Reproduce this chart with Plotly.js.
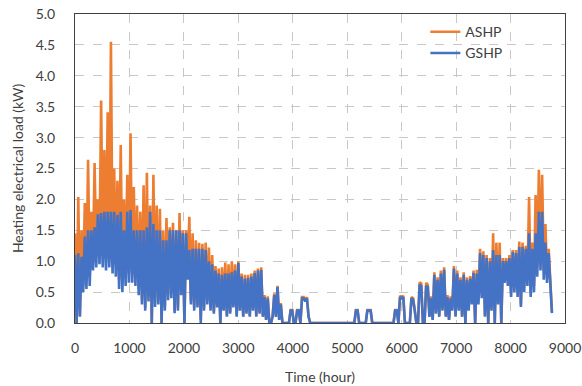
<!DOCTYPE html>
<html>
<head>
<meta charset="utf-8">
<script src="https://cdn.plot.ly/plotly-3.0.1.min.js"></script>
<style>html,body{margin:0;padding:0;background:#fff}#chart{width:582px;height:386px}</style>
</head>
<body>
<div id="chart"></div>
<script>
const STEP_HOURS = 30;

// GSHP heating electrical load (kW)
const gshp = [
1.1,0.0,1.13,0.1,1.07,0.5,1.4,0.55,1.5,0.6,
1.5,0.85,1.55,0.9,1.76,0.95,1.78,0.9,1.8,0.85,
1.8,0.9,1.8,0.8,1.8,0.75,1.75,0.55,1.8,0.5,
1.5,0.6,1.8,0.65,1.83,0.65,1.5,0.6,1.5,0.45,
1.5,0.3,1.5,0.2,1.55,0.35,1.8,0.0,1.6,0.26,
1.5,0.3,1.5,0.0,1.34,0.2,1.34,0.37,1.5,0.4,
1.5,0.16,1.5,0.2,1.5,0.45,1.45,0.0,1.45,0.7,
1.18,0.3,1.2,0.2,1.2,0.25,1.2,0.0,1.2,0.2,
1.18,0.3,1.0,0.2,0.95,0.15,0.85,0.25,0.8,0.0,
0.78,0.2,0.8,0.1,0.8,0.15,0.82,0.25,0.85,0.1,
0.97,0.2,0.75,0.1,0.72,0.15,0.73,0.1,0.75,0.2,
0.81,0.1,0.85,0.15,0.86,0.1,0.42,0.05,0.4,0.0,
0.0,0.1,0.45,0.1,0.58,0.05,0.3,0.0,0.0,0.0,
0.0,0.0,0.2,0.2,0.0,0.0,0.2,0.2,0.0,0.4,
0.4,0.35,0.4,0.1,0,0,0,0,0,0,
0,0,0,0,0,0,0,0,0,0,
0,0,0,0,0,0,0,0,0,0,
0,0,0.2,0.2,0,0,0,0,0,0.2,
0.2,0.2,0,0,0,0,0,0,0,0,
0,0,0,0,0,0,0.2,0.2,0.0,0.42,
0.4,0.42,0,0,0,0,0.4,0.38,0.2,0.0,
0.0,0.62,0.6,0.0,0.0,0.6,0.58,0.1,0.4,0.05,
0.78,0.15,0.7,0.1,0.8,0.2,0.86,0.1,0.42,0.05,
0.4,0.2,0.88,0.1,0.8,0.2,0.7,0.1,0.78,0.0,
0.7,0.2,0.72,0.3,0.81,0.0,0.8,0.3,1.13,0.4,
1.1,0.1,1.05,0.0,1.0,0.2,1.18,0.0,1.1,0.3,
1.1,0.0,1.0,0.65,1.0,0.6,1.05,0.42,1.15,0.5,
1.13,0.42,1.23,0.26,1.23,0.5,1.2,0.6,1.45,0.42,
1.2,0.5,1.45,0.75,1.8,0.85,1.8,0.7,1.3,0.65,
1.13,0.6,0.16
];

// ASHP heating electrical load (kW)
const ashp = [
1.45,0.0,2.04,0.12,1.5,0.6,1.94,0.7,2.64,0.75,
1.8,1.05,2.59,1.1,2.0,1.2,3.6,1.15,2.8,1.1,
3.41,1.15,4.55,1.0,2.5,0.95,2.3,0.7,2.88,0.65,
2.0,0.75,2.4,0.8,3.07,0.8,2.2,0.75,1.9,0.55,
1.8,0.38,2.23,0.25,2.43,0.42,1.9,0.0,2.4,0.32,
1.9,0.36,1.85,0.0,1.5,0.25,1.7,0.45,1.55,0.48,
1.62,0.2,1.5,0.25,1.78,0.52,1.5,0.0,1.5,0.8,
1.72,0.35,1.45,0.25,1.34,0.3,1.3,0.05,1.28,0.25,
1.3,0.35,1.22,0.25,1.1,0.18,0.92,0.3,0.88,0.0,
0.9,0.25,0.98,0.12,0.95,0.18,1.0,0.3,0.95,0.12,
1.0,0.25,0.8,0.12,0.78,0.18,0.78,0.12,0.8,0.25,
0.85,0.12,0.88,0.18,0.9,0.12,0.45,0.06,0.43,0.0,
0.0,0.12,0.48,0.12,0.6,0.06,0.32,0.0,0.0,0.0,
0.0,0.0,0.21,0.21,0.0,0.0,0.21,0.21,0.0,0.42,
0.42,0.37,0.42,0.11,0,0,0,0,0,0,
0,0,0,0,0,0,0,0,0,0,
0,0,0,0,0,0,0,0,0,0,
0,0,0.21,0.21,0,0,0,0,0,0.21,
0.21,0.21,0,0,0,0,0,0,0,0,
0,0,0,0,0,0,0.21,0.21,0.0,0.44,
0.42,0.44,0,0,0,0,0.42,0.4,0.21,0.0,
0.0,0.66,0.64,0.0,0.0,0.65,0.62,0.12,0.43,0.06,
0.82,0.18,0.74,0.12,0.85,0.24,0.9,0.12,0.45,0.06,
0.43,0.24,0.92,0.12,0.85,0.24,0.74,0.12,0.82,0.0,
0.74,0.24,0.76,0.35,0.85,0.0,0.86,0.35,1.2,0.45,
1.16,0.12,1.1,0.0,1.05,0.24,1.45,0.0,1.3,0.35,
1.3,0.0,1.05,0.75,1.05,0.7,1.1,0.5,1.18,0.58,
1.18,0.5,1.32,0.3,1.3,0.6,1.25,0.7,2.04,0.5,
1.3,0.6,2.07,0.9,2.48,1.0,2.4,0.85,1.6,0.78,
1.2,0.7,0.18
];

const seriesNames = ["ASHP", "GSHP"];
const xTickVals = [0,1000,2000,3000,4000,5000,6000,7000,8000,9000];
const yTickVals = [0,0.5,1,1.5,2,2.5,3,3.5,4,4.5,5];
const yTickText = ["0.0","0.5","1.0","1.5","2.0","2.5","3.0","3.5","4.0","4.5","5.0"];

const hoursA = ashp.map((_, i) => i * STEP_HOURS);
const hoursG = gshp.map((_, i) => i * STEP_HOURS);

const FONT = "Lato, 'Open Sans', sans-serif";
const traces = [
  {x: hoursA, y: ashp, name: seriesNames[0], type: "scatter", mode: "lines",
   line: {color: "#ED7D31", width: 2.6}},
  {x: hoursG, y: gshp, name: seriesNames[1], type: "scatter", mode: "lines",
   line: {color: "#4472C4", width: 2.6}}
];

const gridStyle = {showgrid: true, gridcolor: "#c8c8c8", griddash: "dash", gridwidth: 1};
const layout = {
  width: 582, height: 386,
  margin: {l: 75, r: 17, t: 14, b: 63},
  paper_bgcolor: "#fff", plot_bgcolor: "#fff",
  font: {family: FONT, size: 14, color: "#404040"},
  showlegend: true,
  legend: {x: 0.715, y: 0.993, xanchor: "left", yanchor: "top",
           bgcolor: "rgba(0,0,0,0)", font: {family: FONT, size: 14, color: "#404040"}},
  xaxis: Object.assign({
    range: [0, 9000], tickvals: xTickVals, ticktext: xTickVals.map(String),
    showline: true, mirror: true, linecolor: "#404040", linewidth: 1,
    zeroline: false, ticks: "", ticklabelstandoff: 12,
    title: {text: "Time (hour)", font: {family: FONT, size: 14, color: "#404040"}, standoff: 17}
  }, gridStyle),
  yaxis: Object.assign({
    range: [0, 5], tickvals: yTickVals, ticktext: yTickText,
    showline: true, mirror: true, linecolor: "#404040", linewidth: 1,
    zeroline: false, ticks: "", ticklabelstandoff: 16,
    title: {text: "Heating electrical load (kW)", font: {family: FONT, size: 14, color: "#404040"}, standoff: 8}
  }, gridStyle)
};

Plotly.newPlot("chart", traces, layout, {staticPlot: true, displayModeBar: false});
</script>
</body>
</html>
